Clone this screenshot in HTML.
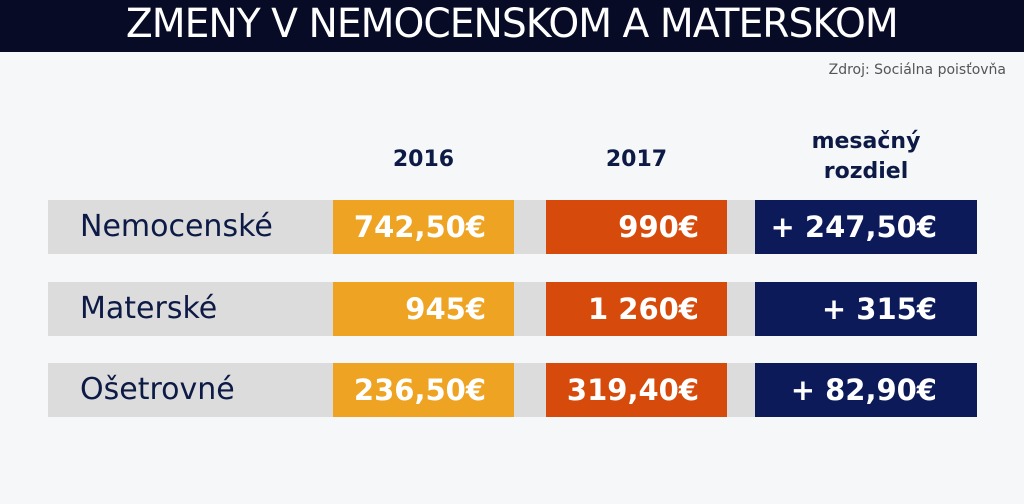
<!DOCTYPE html>
<html><head><style>
body{margin:0;width:1024px;height:504px;background:#f6f7f9;font-family:"DejaVu Sans","Liberation Sans",sans-serif;position:relative;overflow:hidden}
.hdr{position:absolute;left:0;top:0;width:1024px;height:52px;background:#070b25;color:#fff;font-size:40px;text-align:center;line-height:48px;letter-spacing:-1px}
.hdr span{display:inline-block;transform:scaleX(0.98)}
.src{position:absolute;right:18px;top:62px;font-size:14px;color:#555}
.h{position:absolute;color:#0c1a45;font-weight:bold;font-size:22px;text-align:center;line-height:30px}
.row{position:absolute;left:48px;width:929px;height:54px;background:#dcdcdc}
.lab{position:absolute;left:32px;top:0;line-height:54px;font-size:30px;color:#0c1a45}
.c{position:absolute;top:0;height:54px;line-height:54px;color:#fff;font-weight:bold;font-size:29px;text-align:right;box-sizing:border-box;padding-right:28px}
.o{left:285px;width:181px;background:#eea322}
.r{left:498px;width:181px;background:#d64b0b}
.n{left:707px;width:222px;background:#0c1a5a;padding-right:40px}
</style></head><body>
<div class="hdr"><span>ZMENY V NEMOCENSKOM A MATERSKOM</span></div>
<div class="src">Zdroj: Sociálna poisťovňa</div>
<div class="h" style="left:333px;width:181px;top:145px">2016</div>
<div class="h" style="left:546px;width:181px;top:145px">2017</div>
<div class="h" style="left:755px;width:222px;top:127px">mesačný<br>rozdiel</div>
<div class="row" style="top:200px"><div class="lab">Nemocenské</div><div class="c o">742,50€</div><div class="c r">990€</div><div class="c n">+ 247,50€</div></div>
<div class="row" style="top:282px"><div class="lab">Materské</div><div class="c o">945€</div><div class="c r">1 260€</div><div class="c n">+ 315€</div></div>
<div class="row" style="top:363px"><div class="lab">Ošetrovné</div><div class="c o">236,50€</div><div class="c r">319,40€</div><div class="c n">+ 82,90€</div></div>
</body></html>
